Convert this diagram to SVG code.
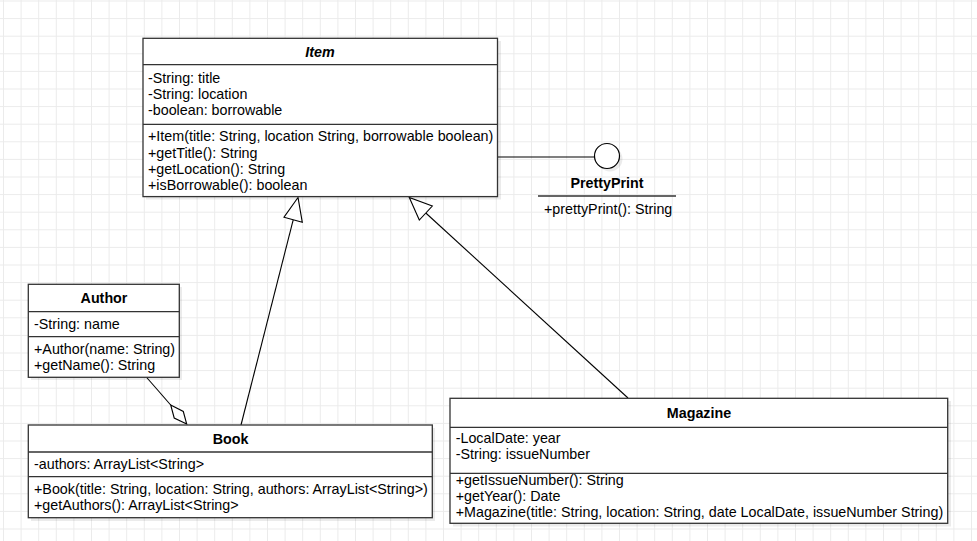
<svg xmlns="http://www.w3.org/2000/svg" width="977" height="541" viewBox="0 0 977 541">
<defs>
<pattern id="grid" x="3" y="0.5" width="17.6" height="17.6" patternUnits="userSpaceOnUse">
<rect x="0" y="0" width="17.6" height="1" fill="#ebebeb"/>
<rect x="0" y="0" width="1" height="17.6" fill="#ebebeb"/>
</pattern>
</defs>
<style>
text{font-family:"Liberation Sans",Arial,sans-serif;font-size:14.3px;fill:#000}
.t{font-weight:bold;text-anchor:middle}
.box{fill:#fff;stroke:#333;stroke-width:1.3}
.sh{fill:#000;fill-opacity:0.08}
.div{stroke:#333;stroke-width:1.3}
.ln{fill:none;stroke:#000;stroke-width:1.1}
.tri{fill:#fff;stroke:#000;stroke-width:1.1}
</style>
<rect width="977" height="541" fill="#fff"/>
<rect width="977" height="541" fill="url(#grid)"/>

<g id="connectors">
<line class="ln" x1="497.5" y1="157" x2="594.5" y2="157"/>
<line class="ln" x1="241" y1="425" x2="293.2" y2="219.8"/>
<polygon class="tri" points="298,197.5 284,217.3 302.3,222.3"/>
<line class="ln" x1="628" y1="398" x2="425.8" y2="213"/>
<polygon class="tri" points="409.3,197.5 419.3,220 432.3,206"/>
<line class="ln" x1="146.7" y1="377.5" x2="170.7" y2="405"/>
<polygon class="tri" points="170.7,405 183.3,411.5 186.7,424 174.2,418"/>
</g>

<g id="Item">
<rect class="sh" x="146" y="41" width="355" height="158.5"/>
<rect class="box" x="143" y="38.3" width="354.5" height="158.3"/>
<line class="div" x1="143" y1="64.7" x2="497.5" y2="64.7"/>
<line class="div" x1="143" y1="124.3" x2="497.5" y2="124.3"/>
<text class="t" x="320" y="56.5" font-style="italic">Item</text>
<text x="148" y="82.5">-String: title</text>
<text x="148" y="98.5">-String: location</text>
<text x="148" y="115">-boolean: borrowable</text>
<text x="148" y="141">+Item(title: String, location String, borrowable boolean)</text>
<text x="148" y="157.5">+getTitle(): String</text>
<text x="148" y="173.5">+getLocation(): String</text>
<text x="148" y="190">+isBorrowable(): boolean</text>
</g>

<g id="PrettyPrint">
<circle class="sh" cx="610" cy="159" r="12.5"/>
<circle cx="607" cy="156" r="12.5" fill="#fff" stroke="#000" stroke-width="1.2"/>
<text class="t" x="607" y="187.5">PrettyPrint</text>
<line class="div" x1="538" y1="196" x2="676" y2="196"/>
<text x="544" y="214">+prettyPrint(): String</text>
</g>

<g id="Author">
<rect class="sh" x="31" y="287" width="151" height="93"/>
<rect class="box" x="28.3" y="284.3" width="151" height="93"/>
<line class="div" x1="28.3" y1="311.7" x2="179.3" y2="311.7"/>
<line class="div" x1="28.3" y1="336.7" x2="179.3" y2="336.7"/>
<text class="t" x="104" y="303">Author</text>
<text x="34" y="329">-String: name</text>
<text x="34" y="354">+Author(name: String)</text>
<text x="34" y="370">+getName(): String</text>
</g>

<g id="Book">
<rect class="sh" x="31" y="428" width="404" height="93"/>
<rect class="box" x="28.3" y="425" width="404" height="92.7"/>
<line class="div" x1="28.3" y1="452" x2="432.3" y2="452"/>
<line class="div" x1="28.3" y1="476.7" x2="432.3" y2="476.7"/>
<text class="t" x="230.5" y="444">Book</text>
<text x="34" y="469">-authors: ArrayList&lt;String&gt;</text>
<text x="34" y="494">+Book(title: String, location: String, authors: ArrayList&lt;String&gt;)</text>
<text x="34" y="510">+getAuthors(): ArrayList&lt;String&gt;</text>
</g>

<g id="Magazine">
<rect class="sh" x="453" y="401" width="498" height="125.5"/>
<rect class="box" x="450" y="398.3" width="497.7" height="125"/>
<line class="div" x1="450" y1="427.3" x2="947.7" y2="427.3"/>
<line class="div" x1="450" y1="473.3" x2="947.7" y2="473.3"/>
<text class="t" x="699" y="417.5">Magazine</text>
<text x="455.7" y="443">-LocalDate: year</text>
<text x="455.7" y="459">-String: issueNumber</text>
<text x="455.7" y="485">+getIssueNumber(): String</text>
<text x="455.7" y="501">+getYear(): Date</text>
<text x="455.7" y="517">+Magazine(title: String, location: String, date LocalDate, issueNumber String)</text>
</g>
</svg>
